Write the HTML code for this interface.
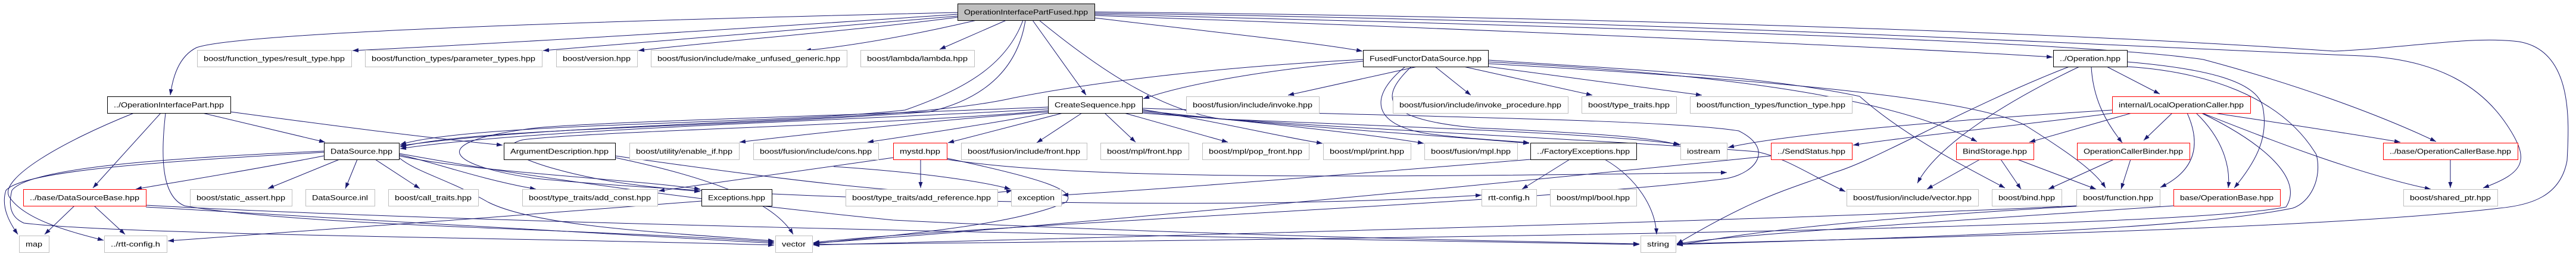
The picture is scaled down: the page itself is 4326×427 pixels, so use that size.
<!DOCTYPE html>
<html><head><meta charset="utf-8"><style>
html,body{margin:0;padding:0;background:#fff;}
svg{display:block}
text{font-family:"Liberation Sans",sans-serif;font-size:12px;fill:#000}
.e{fill:none;stroke:#191970;stroke-width:1}
.g{fill:#fff;stroke:#bfbfbf;stroke-width:1}
.k{fill:#fff;stroke:#000;stroke-width:1}
.r{fill:#fff;stroke:#ff0000;stroke-width:1}
</style></head><body>
<svg width="4326" height="427" viewBox="0 0 4326 427" xmlns="http://www.w3.org/2000/svg">
<defs><marker id="a" markerUnits="userSpaceOnUse" markerWidth="11" markerHeight="8" refX="10" refY="3.5" orient="auto"><path d="M0,0 L10,3.5 L0,7 z" fill="#191970"/></marker></defs>
<g class="e" marker-end="url(#a)">
<!-- root -->
<path d="M1608,21 C1000,35 400,55 330,80 C300,95 290,130 286,160"/>
<path d="M1608,24 C1300,45 900,70 592,85"/>
<path d="M1608,27 C1400,45 1100,70 912,85"/>
<path d="M1608,29 C1450,50 1200,70 1072,85"/>
<path d="M1640,34 C1550,55 1450,75 1352,85"/>
<path d="M1690,34 L1578,83"/>
<path d="M1734,34 L1824,160"/>
<path d="M1718,34 C1690,110 1620,150 1520,185 C1300,210 800,205 672,243"/>
<path d="M1722,34 C1710,110 1660,165 1560,188 C1200,215 800,215 672,247"/>
<path d="M1745,34 C1850,120 1950,185 2050,200 C2400,215 2700,225 2822,243"/>
<path d="M1838,30 C2000,50 2200,70 2288,86"/>
<path d="M1838,26 C2500,50 3200,80 3447,96"/>
<path d="M1838,24 C2700,45 3500,70 3700,100 C3850,140 3990,190 4091,238"/>
<path d="M1838,22 C2800,35 3500,75 3967,94 C4100,100 4170,150 4210,210 C4250,270 4240,290 4170,316"/>
<path d="M1838,20 C2600,28 3400,50 3920,86 C4050,80 4150,60 4230,70 C4320,85 4315,200 4311,270 C4300,330 4250,345 4197,350 C3900,385 3200,400 2816,410"/>
<!-- OperationInterfacePart -->
<path d="M340,190 L546,239"/>
<path d="M270,190 L156,316"/>
<path d="M225,190 C100,240 0,300 15,330 C40,370 120,390 174,404"/>
<path d="M278,190 C270,260 270,330 310,346 C500,380 1000,385 1300,407"/>
<path d="M387,188 C550,210 700,230 844,244"/>
<!-- DataSource -->
<path d="M544,262 C400,290 300,305 228,318"/>
<path d="M570,268 L450,317"/>
<path d="M600,268 L580,317"/>
<path d="M630,268 L705,317"/>
<path d="M544,256 C300,270 40,285 10,320 C0,350 20,380 30,394"/>
<path d="M544,254 C300,265 50,280 20,320 C10,360 30,370 40,375 C200,395 900,400 1300,412"/>
<path d="M670,260 C720,270 800,300 900,318"/>
<path d="M670,262 C800,290 1050,300 1176,318"/>
<path d="M670,258 C900,300 1200,340 1500,370 C2000,395 2500,405 2753,410"/>
<path d="M670,265 C700,290 750,300 820,340 C900,380 1100,390 1300,405"/>
<!-- DataSourceBase -->
<path d="M125,346 L75,394"/>
<path d="M158,346 L210,394"/>
<path d="M245,345 C700,370 1500,390 2753,411"/>
<path d="M245,348 C600,370 1000,390 1300,409"/>
<!-- ArgumentDescription / Exceptions -->
<path d="M1033,265 C1200,300 1300,340 1332,394"/>
<path d="M1033,262 C1300,300 1600,340 1700,320"/>
<path d="M1178,338 C900,360 500,390 282,405"/>
<!-- CreateSequence -->
<path d="M1760,183 C1500,200 900,215 672,250"/>
<path d="M1760,186 C1500,210 1000,220 878,235 C820,250 900,280 1000,300 C1050,310 1100,315 1176,322"/>
<path d="M1760,188 C1600,200 1400,220 1242,239"/>
<path d="M1760,190 C1650,210 1550,225 1457,239"/>
<path d="M1785,190 L1592,240"/>
<path d="M1817,190 L1741,240"/>
<path d="M1855,190 L1907,239"/>
<path d="M1888,190 L2062,239"/>
<path d="M1918,184 C2050,205 2150,230 2221,241"/>
<path d="M1918,186 C2100,205 2300,225 2391,241"/>
<path d="M1918,188 C2200,215 2450,230 2568,241"/>
<path d="M1918,190 C2300,220 2700,235 2950,255 C3000,265 3050,300 3099,322"/>
<path d="M1918,182 C2300,195 2800,200 2920,220 C2980,250 2950,290 2900,300 C2600,340 1600,380 1366,408"/>
<path d="M1760,180 C1400,195 1000,205 900,215 C700,240 760,280 900,300 C1200,330 2000,360 2488,328"/>
<!-- mystd -->
<path d="M1546,268 L1546,316"/>
<path d="M1500,265 C1400,280 1250,300 1106,321"/>
<path d="M1590,266 C1750,300 1810,320 1790,340 C1700,380 1500,395 1366,410"/>
<path d="M1590,268 C1800,300 2200,300 2900,290"/>
<path d="M1400,280 C1550,290 1650,305 1697,318"/>
<!-- FusedFunctor -->
<path d="M2289,100 C2000,115 1800,145 1700,165 C1500,210 1000,200 672,245"/>
<path d="M2289,103 C2100,120 1980,145 1920,166"/>
<path d="M2380,112 L2163,160"/>
<path d="M2410,112 L2470,160"/>
<path d="M2458,112 L2674,160"/>
<path d="M2499,112 L2858,160"/>
<path d="M2360,112 C2300,160 2300,210 2400,225 C2480,235 2530,236 2568,240"/>
<path d="M2370,112 C2320,160 2310,200 2480,215 C2700,225 2780,232 2820,244"/>
<path d="M2499,101 C2700,115 2950,125 3123,162 C3200,230 3300,280 3367,316"/>
<path d="M2499,104 C2800,120 3150,150 3320,238"/>
<path d="M2499,107 C2900,130 3300,160 3400,210 C3480,260 3520,290 3536,316"/>
<!-- FactoryExceptions -->
<path d="M2636,268 L2556,318"/>
<path d="M2695,268 C2750,300 2780,350 2782,394"/>
<path d="M2570,268 C2300,290 2000,315 1784,328"/>
<!-- Operation -->
<path d="M3492,112 C3350,180 3250,250 3220,308"/>
<path d="M3475,112 C3300,180 3150,270 3080,290 C3000,320 2950,330 2816,410"/>
<path d="M3512,112 C3515,170 3540,210 3564,240"/>
<path d="M3538,112 L3627,158"/>
<path d="M3572,104 C3700,115 3790,135 3800,180 C3810,230 3790,270 3752,316"/>
<path d="M3572,112 C3700,120 3830,160 3890,260 C3900,300 3880,340 3850,350 C3700,380 3400,395 2816,411"/>
<!-- LocalOperationCaller -->
<path d="M3547,185 C3300,200 3000,225 2902,248"/>
<path d="M3550,190 C3400,210 3200,230 3112,244"/>
<path d="M3580,190 L3408,239"/>
<path d="M3648,190 L3600,236"/>
<path d="M3673,190 C3700,250 3680,290 3628,315"/>
<path d="M3688,190 C3740,240 3745,290 3742,316"/>
<path d="M3697,190 C3800,240 3870,300 3839,348 C3700,375 3000,395 1366,411"/>
<path d="M3698,190 C3800,230 3950,290 4082,318"/>
<path d="M3718,190 C3850,210 3950,225 4031,239"/>
<!-- BindStorage, Binder, OCB, OperationBase -->
<path d="M3325,268 L3236,318"/>
<path d="M3360,268 L3394,318"/>
<path d="M3388,268 L3520,318"/>
<path d="M3550,268 L3440,318"/>
<path d="M3578,268 L3562,318"/>
<path d="M4115,268 L4115,316"/>
<path d="M3650,346 C3300,370 2900,395 2816,410"/>
<path d="M2974,262 C2600,300 1900,370 1366,409"/>
<path d="M3487,346 C3000,370 2000,395 1366,412"/>
<path d="M3500,346 C3000,375 2900,400 2816,412"/>
</g>
<!-- nodes -->
<g>
<rect x="1608.5" y="6.5" width="230" height="28" fill="#bfbfbf" stroke="#000"/>
<text x="1723" y="24.5" text-anchor="middle" textLength="208" lengthAdjust="spacingAndGlyphs">OperationInterfacePartFused.hpp</text>
</g>
<g id="nodes"></g>
<script>
var N=[
[331,590,84,"boost/function_types/result_type.hpp","g"],
[613,910,84,"boost/function_types/parameter_types.hpp","g"],
[934,1070,84,"boost/version.hpp","g"],
[1093,1422,84,"boost/fusion/include/make_unfused_generic.hpp","g"],
[1445,1636,84,"boost/lambda/lambda.hpp","g"],
[2289,2499,84,"FusedFunctorDataSource.hpp","k"],
[3448,3572,84,"../Operation.hpp","k"],
[180,387,162,"../OperationInterfacePart.hpp","k"],
[1760,1918,162,"CreateSequence.hpp","k"],
[1992,2215,162,"boost/fusion/include/invoke.hpp","g"],
[2339,2633,162,"boost/fusion/include/invoke_procedure.hpp","g"],
[2656,2815,162,"boost/type_traits.hpp","g"],
[2838,3110,162,"boost/function_types/function_type.hpp","g"],
[3547,3779,162,"internal/LocalOperationCaller.hpp","r"],
[544,670,240,"DataSource.hpp","k"],
[846,1033,240,"ArgumentDescription.hpp","k"],
[1057,1241,240,"boost/utility/enable_if.hpp","g"],
[1265,1475,240,"boost/fusion/include/cons.hpp","g"],
[1500,1590,240,"mystd.hpp","r"],
[1614,1825,240,"boost/fusion/include/front.hpp","g"],
[1848,1996,240,"boost/mpl/front.hpp","g"],
[2019,2198,240,"boost/mpl/pop_front.hpp","g"],
[2222,2369,240,"boost/mpl/print.hpp","g"],
[2392,2548,240,"boost/fusion/mpl.hpp","g"],
[2570,2748,240,"../FactoryExceptions.hpp","k"],
[2822,2900,240,"iostream","g"],
[2974,3110,240,"../SendStatus.hpp","r"],
[3285,3415,240,"BindStorage.hpp","r"],
[3488,3677,240,"OperationCallerBinder.hpp","r"],
[4002,4228,240,"../base/OperationCallerBase.hpp","r"],
[39,245,318,"../base/DataSourceBase.hpp","r"],
[319,490,318,"boost/static_assert.hpp","g"],
[513,629,318,"DataSource.inl","g"],
[652,803,318,"boost/call_traits.hpp","g"],
[877,1104,318,"boost/type_traits/add_const.hpp","g"],
[1178,1296,318,"Exceptions.hpp","k"],
[1420,1675,318,"boost/type_traits/add_reference.hpp","g"],
[1698,1782,318,"exception","g"],
[2488,2580,318,"rtt-config.h","g"],
[2603,2748,318,"boost/mpl/bool.hpp","g"],
[3101,3322,318,"boost/fusion/include/vector.hpp","g"],
[3345,3462,318,"boost/bind.hpp","g"],
[3487,3627,318,"boost/function.hpp","g"],
[3650,3829,318,"base/OperationBase.hpp","r"],
[4036,4194,318,"boost/shared_ptr.hpp","g"],
[32,82,396,"map","g"],
[175,280,396,"../rtt-config.h","g"],
[1302,1364,396,"vector","g"],
[2755,2814,396,"string","g"]
];
var ns="http://www.w3.org/2000/svg",G=document.getElementById("nodes");
N.forEach(function(n){
 var r=document.createElementNS(ns,"rect");
 r.setAttribute("x",n[0]+0.5);r.setAttribute("y",n[2]+0.5);
 r.setAttribute("width",n[1]-n[0]);r.setAttribute("height",28);
 r.setAttribute("class",n[4]);G.appendChild(r);
 var t=document.createElementNS(ns,"text");
 t.setAttribute("x",(n[0]+n[1])/2);t.setAttribute("y",n[2]+18.5);
 t.setAttribute("text-anchor","middle");
 var w=n[1]-n[0]-22; if(w>0){t.setAttribute("textLength",w);t.setAttribute("lengthAdjust","spacingAndGlyphs");}
 t.textContent=n[3];G.appendChild(t);
});
</script>
</svg>
</body></html>
